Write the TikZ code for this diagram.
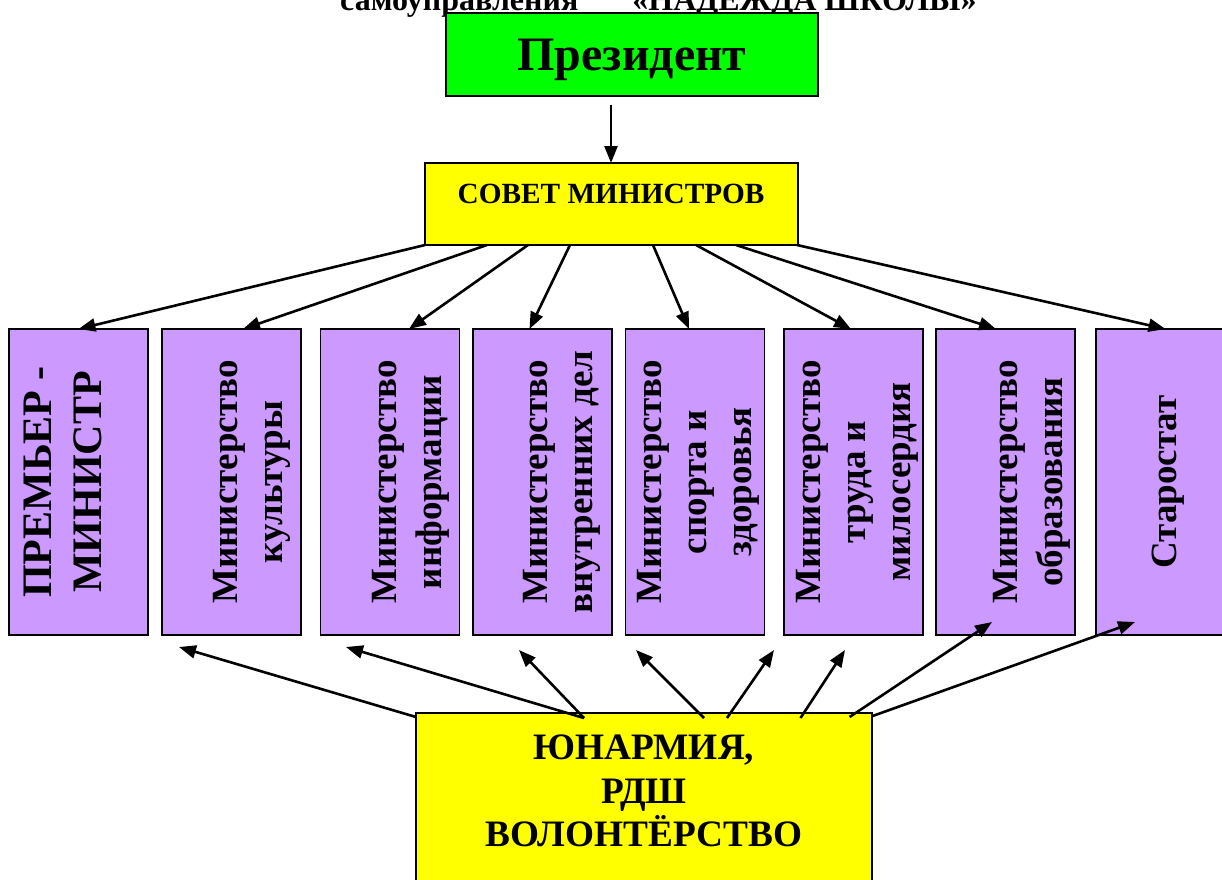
\documentclass[tikz,border=0pt]{standalone}
\usepackage{fontspec}
\setmainfont{Liberation Serif}
\usetikzlibrary{arrows.meta}
\definecolor{pgreen}{RGB}{0,255,0}
\definecolor{pyellow}{RGB}{255,255,0}
\definecolor{ppurple}{RGB}{204,153,255}
\begin{document}
\begin{tikzpicture}[x=1pt,y=-1pt,
  frame/.style={draw=black, line width=1.8pt, inner sep=0pt, outer sep=0pt},
  minbox/.style={frame, fill=ppurple, minimum width=139pt, minimum height=306pt},
  lbl/.style={rotate=90, align=center, inner sep=0pt, font=\bfseries\fontsize{37}{45}\selectfont},
  arr/.style={line width=2.6pt, -{Triangle[length=17pt,width=13pt]}}]
\useasboundingbox (0,0) rectangle (1222,879);
% title (cut off at top)
\node[anchor=base west, inner sep=0pt, font=\bfseries\fontsize{32}{38}\selectfont] (title) at (340,10) {самоуправления\hspace{54pt}«НАДЕЖДА ШКОЛЫ»};
% president
\node[frame, fill=pgreen, minimum width=372pt, minimum height=83pt] (pres) at (632,54.5) {};
\node[anchor=base, inner sep=0pt, font=\bfseries\fontsize{48}{56}\selectfont] (prestxt) at (632,70) {Президент};
% council
\node[frame, fill=pyellow, minimum width=373pt, minimum height=82pt] (cou) at (611.5,204) {};
\node[anchor=base, inner sep=0pt, font=\bfseries\fontsize{29.3}{34}\selectfont] (coutxt) at (611,203) {СОВЕТ МИНИСТРОВ};
% ministries
\node[minbox] (m1) at (78.5,482) {};
\node[minbox] (m2) at (231.5,482) {};
\node[minbox] (m3) at (390,482) {};
\node[minbox] (m4) at (542.5,482) {};
\node[minbox] (m5) at (695,482) {};
\node[minbox] (m6) at (853.5,482) {};
\node[minbox] (m7) at (1005.5,482) {};
\node[minbox] (m8) at (1165.5,482) {};
\node[lbl, font=\bfseries\fontsize{42}{50}\selectfont] (l1) at (63,482) {ПРЕМЬЕР -\\МИНИСТР};
\node[lbl] (l2) at (252,482) {Министерство\\культуры};
\node[lbl] (l3) at (411,482) {Министерство\\информации};
\node[lbl] (l4) at (562,482) {Министерство\\внутренних дел};
\node[lbl] (l5) at (698.5,482) {Министерство\\спорта и\\здоровья};
\node[lbl] (l6) at (857.5,482) {Министерство\\труда и\\милосердия};
\node[lbl] (l7) at (1032,482) {Министерство\\образования};
\node[lbl] (l8) at (1168.5,482) {Старостат};
% bottom box
\node[frame, fill=pyellow, minimum width=456pt, minimum height=186pt] (yb) at (644,806) {};
\node[align=center, inner sep=0pt, font=\bfseries\fontsize{37.3}{43.5}\selectfont] (ybtxt) at (644,791) {ЮНАРМИЯ,\\РДШ\\ВОЛОНТЁРСТВО};
% arrows: president -> council
\draw[arr, shorten <=9pt] ([xshift=-21pt]pres.south) -- ([xshift=-0.5pt]cou.north);
% council -> ministries
\draw[arr] ([xshift=0pt]cou.south west) -- ([xshift=0pt]m1.north);
\draw[arr] ([xshift=62pt]cou.south west) -- ([xshift=11.5pt]m2.north);
\draw[arr] ([xshift=103pt]cou.south west) -- ([xshift=19pt]m3.north);
\draw[arr] ([xshift=145pt]cou.south west) -- ([xshift=-13pt]m4.north);
\draw[arr] ([xshift=228pt]cou.south west) -- ([xshift=-6pt]m5.north);
\draw[arr] ([xshift=271pt]cou.south west) -- ([xshift=-2.5pt]m6.north);
\draw[arr] ([xshift=311pt]cou.south west) -- ([xshift=-9.5pt]m7.north);
\draw[arr] ([xshift=372pt]cou.south west) -- ([xshift=0pt]m8.north);
% bottom box -> ministries
\draw[arr] ([shift={(0,4)}]yb.north west) -- ([shift={(-52.5,12)}]m2.south);
\draw[arr] ([shift={(168,5)}]yb.north west) -- ([shift={(-44,12)}]m3.south);
\draw[arr] ([shift={(168,5)}]yb.north west) -- ([shift={(-23.5,15)}]m4.south);
\draw[arr] ([shift={(288,5)}]yb.north west) -- ([shift={(-59,15)}]m5.south);
\draw[arr] ([shift={(311,5)}]yb.north west) -- ([shift={(-79.5,15)}]m6.south);
\draw[arr] ([shift={(384.5,5)}]yb.north west) -- ([shift={(-8.5,15)}]m6.south);
\draw[arr] ([shift={(433.6,4)}]yb.north west) -- ([shift={(-13.5,-13)}]m7.south);
\draw[arr] ([shift={(456.6,3)}]yb.north west) -- ([shift={(-30.5,-13)}]m8.south);
\end{tikzpicture}
\end{document}
